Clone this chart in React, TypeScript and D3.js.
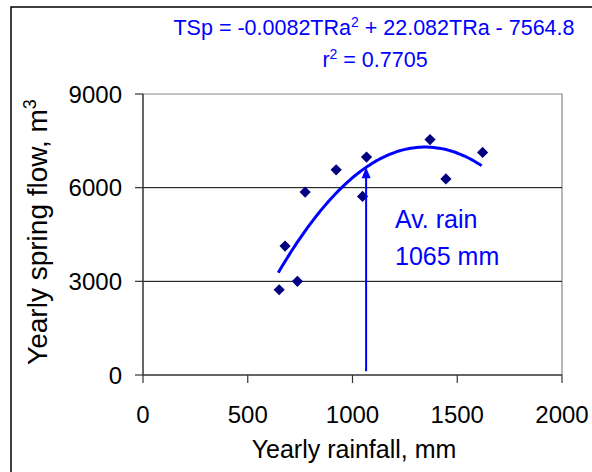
import * as d3 from "d3";
import { useEffect } from "react";

// measured points (rainfall mm, spring flow m3)
const rainfall = [650, 678, 737, 774, 922, 1048, 1067, 1370, 1446, 1621];
const springFlow = [2730, 4130, 3000, 5860, 6570, 5720, 6980, 7540, 6280, 7130];

// trend line from the printed equation
const coef = { a: -0.0082, b: 22.082, c: -7564.8 };
const trendRange = [646, 1623];
const avRain = 1065;

const xTicks = [0, 500, 1000, 1500, 2000];
const yTicks = [0, 3000, 6000, 9000];

const W = 592;
const H = 472;
const margin = { top: 94, right: 30, bottom: 97, left: 143 };

const font = "'Liberation Sans', Arial, sans-serif";

const App = () => {
    useEffect(() => {
        document.body.style.margin = "0";
    }, []);

    const x = d3.scaleLinear().domain([0, 2000]).range([margin.left, W - margin.right]);
    const y = d3.scaleLinear().domain([0, 9000]).range([H - margin.bottom, margin.top]);

    const fit = (r) => coef.a * r * r + coef.b * r + coef.c;
    const trendX = d3.range(trendRange[0], trendRange[1] + 1, 10);
    const line = d3.line()
        .x(d => x(d))
        .y(d => y(fit(d)))
        .curve(d3.curveMonotoneX);

    const diamond = d3.symbol().type(d3.symbolDiamond2).size(80)();

    const ax = x(avRain);
    const tipY = y(fit(avRain));
    const x0 = x(0), x1 = x(2000), y0 = y(0), y1 = y(9000);

    return (
        <svg width={W} height={H} style={{ display: "block", background: "#fff" }}>
            {/* outer frame */}
            <path d={`M11,${H + 5}V7H${W + 5}`} fill="none" stroke="#000" strokeWidth={1.5} />

            {/* plot border + grid */}
            <path d={`M${x0},${y1}H${x1}V${y0}`} fill="none" stroke="#888" strokeWidth={1.2} />
            {yTicks.filter(t => t > 0 && t < 9000).map(t => (
                <line key={t} x1={x0} x2={x1} y1={y(t)} y2={y(t)} stroke="#000" strokeWidth={1} />
            ))}

            {/* axes */}
            <line x1={x0} x2={x0} y1={y1} y2={y0} stroke="#333" strokeWidth={1.5} />
            <line x1={x0} x2={x1} y1={y0} y2={y0} stroke="#333" strokeWidth={1.5} />
            {yTicks.map(t => (
                <g key={t}>
                    <line x1={x0 - 8} x2={x0} y1={y(t)} y2={y(t)} stroke="#333" strokeWidth={1.2} />
                    <text x={x0 - 21} y={y(t) + 8.5} textAnchor="end" fontSize={24} fontFamily={font}>{t}</text>
                </g>
            ))}
            {xTicks.map(t => (
                <g key={t}>
                    <line x1={x(t)} x2={x(t)} y1={y0} y2={y0 + 8} stroke="#333" strokeWidth={1.2} />
                    <text x={x(t)} y={423} textAnchor="middle" fontSize={24} fontFamily={font}>{t}</text>
                </g>
            ))}

            {/* axis titles */}
            <text x={354} y={458} textAnchor="middle" fontSize={25} fontFamily={font}>Yearly rainfall, mm</text>
            <text transform={`translate(47,232) rotate(-90)`} textAnchor="middle" fontSize={28} fontFamily={font}>
                Yearly spring flow, m<tspan dy={-11} fontSize={18}>3</tspan>
            </text>

            {/* trend line */}
            <path d={line(trendX)} fill="none" stroke="#0000ff" strokeWidth={3} />

            {/* points */}
            {rainfall.map((r, i) => (
                <path key={i} d={diamond} transform={`translate(${x(r)},${y(springFlow[i])})`} fill="#000080" />
            ))}

            {/* average rain arrow */}
            <line x1={ax} x2={ax} y1={y(120)} y2={tipY + 8} stroke="#0000ff" strokeWidth={2} />
            <path d={`M${ax},${tipY}L${ax - 4.5},${tipY + 11}L${ax + 4.5},${tipY + 11}Z`} fill="#0000ff" />
            <text x={395} y={228} fontSize={25} fill="#0000ff" fontFamily={font}>Av. rain</text>
            <text x={395} y={265} fontSize={25} fill="#0000ff" fontFamily={font}>1065 mm</text>

            {/* equation */}
            <text x={374} y={35} textAnchor="middle" fontSize={21.5} fill="#0000ff" fontFamily={font}>
                TSp = -0.0082TRa<tspan dy={-8} fontSize={14}>2</tspan><tspan dy={8}> + 22.082TRa - 7564.8</tspan>
            </text>
            <text x={375} y={67} textAnchor="middle" fontSize={21.5} fill="#0000ff" fontFamily={font}>
                r<tspan dy={-8} fontSize={14}>2</tspan><tspan dy={8}> = 0.7705</tspan>
            </text>
        </svg>
    );
};

export default App;
